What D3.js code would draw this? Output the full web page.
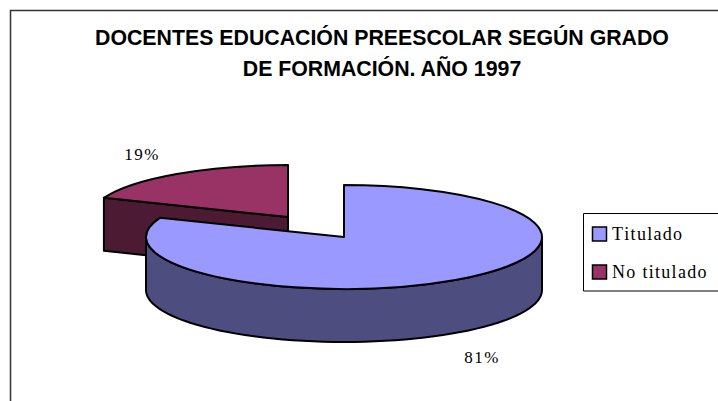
<!DOCTYPE html>
<html>
<head>
<meta charset="utf-8">
<script src="https://cdn.jsdelivr.net/npm/d3@7"></script>
<style>
html,body{margin:0;padding:0;background:#fff;overflow:hidden}
svg{display:block}
</style>
</head>
<body>
<div id="chart"></div>
<script>
var categories=["Titulado","No titulado"];
var values=[81,19];
var labels=["81%","19%"];
var titleLines=["DOCENTES EDUCACIÓN PREESCOLAR SEGÚN GRADO","DE FORMACIÓN. AÑO 1997"];
var topColors=["#9999ff","#993366"];
var wallColors=["#4d4d80","#4d1a33"];

var width=718, height=401;
var cx=344, cy=237; // centre of the big slice
var rx=198, ry=52, depth=53;
var explode=[[0,0],[-56,-20]]; // second slice is pulled out
var lineW=2;

var svg=d3.select("#chart").append("svg").attr("width",width).attr("height",height);

// frame, runs off the picture at right and bottom
svg.append("path").attr("d","M10.5,"+height+"V10.5H"+width)
	.attr("fill","none").attr("stroke","#333").attr("stroke-width",1.5);

svg.selectAll("text.title").data(titleLines).enter().append("text")
	.attr("class","title")
	.attr("x",382).attr("y",function(d,i){return 45+i*31;})
	.attr("text-anchor","middle")
	.attr("font-family","'Liberation Sans',Arial,sans-serif")
	.attr("font-weight","bold").attr("font-size",21.3)
	.text(function(d){return d;});

var pie=d3.pie().sort(null).startAngle(0).endAngle(2*Math.PI);
var slices=pie(values);
var arc=d3.arc().innerRadius(0).outerRadius(rx);
var squash=ry/rx;

// a point on the ellipse, angle clockwise from 12 o'clock
var ex=function(a){return rx*Math.sin(a);};
var ey=function(a){return -ry*Math.cos(a);};

// outer wall between two angles
var wallPath=function(a0,a1){
	var t=d3.scaleLinear().domain([0,60]).range([a0,a1]);
	var pts=d3.range(61).map(function(i){return [ex(t(i)),ey(t(i))];});
	var low=pts.slice().reverse().map(function(p){return [p[0],p[1]+depth];});
	return d3.line()(pts.concat(low))+"Z";
};
// flat wall going down from the radial edge at angle a
var faceAt=function(a){
	return d3.line()([[0,0],[ex(a),ey(a)],[ex(a),ey(a)+depth],[0,depth]])+"Z";
};

var drawOrder=[1,0];
drawOrder.forEach(function(i){
	var s=slices[i];
	var g=svg.append("g").attr("transform","translate("+(cx+explode[i][0])+","+(cy+explode[i][1])+")");
	if(i==1){
		// pulled out slice only shows the face along its first edge
		g.append("path").attr("d",faceAt(s.startAngle))
			.attr("fill",wallColors[i]).attr("stroke","#000").attr("stroke-width",lineW).attr("stroke-linejoin","round");
	}else{
		g.append("path").attr("d",wallPath(Math.PI/2,3*Math.PI/2))
			.attr("fill",wallColors[i]).attr("stroke","#000").attr("stroke-width",lineW).attr("stroke-linejoin","round");
	}
	g.append("path").attr("d",arc(s))
		.attr("transform","scale(1,"+squash+")")
		.attr("vector-effect","non-scaling-stroke")
		.attr("fill",topColors[i]).attr("stroke","#000").attr("stroke-width",lineW).attr("stroke-linejoin","round");
});

// data labels
var labelPos=[[482,363],[142,160]];
svg.selectAll("text.lab").data(labels).enter().append("text")
	.attr("class","lab")
	.attr("x",function(d,i){return labelPos[i][0];})
	.attr("y",function(d,i){return labelPos[i][1];})
	.attr("text-anchor","middle")
	.attr("font-family","'Liberation Serif','Times New Roman',serif")
	.attr("font-size",17).attr("letter-spacing",1.5)
	.text(function(d){return d;});

// legend
var legend=svg.append("g");
legend.append("path").attr("d","M"+width+",213.5H583.5V291H"+width)
	.attr("fill","#fff").attr("stroke","#000").attr("stroke-width",1);
var legendY=d3.scalePoint().domain(categories).range([234,272]);
var items=legend.selectAll("g").data(categories).enter().append("g")
	.attr("transform",function(d){return "translate(592,"+legendY(d)+")";});
items.append("rect").attr("x",0.5).attr("y",-7).attr("width",14).attr("height",14)
	.attr("fill",function(d,i){return topColors[i];})
	.attr("stroke","#000").attr("stroke-width",1.5);
items.append("text").attr("x",20).attr("y",5.5)
	.attr("font-family","'Liberation Serif','Times New Roman',serif")
	.attr("font-size",18).attr("letter-spacing",1.3)
	.style("font-kerning","none")
	.text(function(d){return d;});
</script>
</body>
</html>
